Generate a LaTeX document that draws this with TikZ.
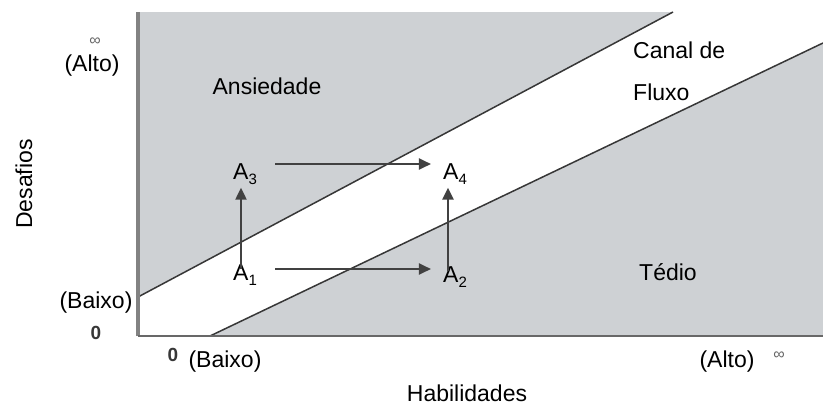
\documentclass[tikz,border=0pt]{standalone}
\usepackage{fontspec}
\setmainfont{Liberation Sans}
\usetikzlibrary{arrows.meta}
\definecolor{zonegray}{RGB}{206,209,212}
\definecolor{linegray}{RGB}{55,55,55}
\definecolor{arrowgray}{RGB}{65,65,65}
\definecolor{axisgray}{RGB}{130,130,130}
\definecolor{infgray}{RGB}{100,100,100}
\newcommand{\sub}[1]{\raisebox{-5pt}{\fontsize{15}{15}\selectfont #1}}
\begin{document}
\begin{tikzpicture}[x=1pt,y=-1pt,
  txt/.style={inner sep=0pt,font=\fontsize{23}{27}\selectfont},
  inf/.style={inner sep=0pt,font=\fontsize{16}{16}\selectfont,text=infgray},
  zero/.style={inner sep=0pt,font=\fontsize{19}{19}\selectfont\bfseries,text=linegray},
  pt/.style={inner sep=0pt,font=\fontsize{23}{27}\selectfont},
  arr/.style={draw=arrowgray,line width=2.2pt,-{Triangle[length=12pt,width=11pt]}},
  bound/.style={draw=linegray,line width=1.5pt}]
\useasboundingbox (0,0) rectangle (823,405);
% zones
\fill[zonegray] (138,12) -- (673,12) -- (138,297) -- cycle;
\fill[zonegray] (210,336) -- (823,43) -- (823,336) -- cycle;
% boundary lines
\coordinate (u1) at (138,297);
\coordinate (u2) at (673,12);
\coordinate (l1) at (210,336);
\coordinate (l2) at (823,43);
\draw[bound] (u1) -- (u2);
\draw[bound] (l1) -- (l2);
% axes
\coordinate (o) at (138,336);
\coordinate (ytop) at (138,12);
\coordinate (xend) at (823,336);
\draw[axisgray,line width=3.5pt] (o) -- (ytop);
\draw[axisgray!80!black,line width=2pt] (o) -- (xend);
% axis labels
\node[inf] (inftl) at (95,42) {∞};
\node[txt] (altol) at (92,66) {(Alto)};
\node[txt] (baixol) at (96,303) {(Baixo)};
\node[zero] (zerol) at (96,333) {0};
\node[zero] (zerob) at (173,355) {0};
\node[txt] (baixob) at (225,362) {(Baixo)};
\node[txt] (altob) at (727,362) {(Alto)};
\node[inf] (infbr) at (779,356) {∞};
\node[txt] (hab) at (467,393) {Habilidades};
\node[txt,rotate=90] (des) at (24,184) {Desafios};
% zone labels
\node[txt] (ans) at (267,86) {Ansiedade};
\node[txt,anchor=west] (canal) at (633,50) {Canal de};
\node[txt,anchor=west] (fluxo) at (633,92) {Fluxo};
\node[txt] (tedio) at (668,272) {Tédio};
% points
\node[pt] (A1) at (245,275) {A\sub{1}};
\node[pt] (A2) at (455,277) {A\sub{2}};
\node[pt] (A3) at (245,174) {A\sub{3}};
\node[pt] (A4) at (455,174) {A\sub{4}};
\draw[arr] ([xshift=18pt,yshift=6pt]A1.east) -- ([xshift=-12pt,yshift=6pt]A1.east -| A2.west);
\draw[arr] ([xshift=18pt,yshift=10pt]A3.east) -- ([xshift=-12pt,yshift=10pt]A3.east -| A4.west);
\draw[arr] ([xshift=-4pt,yshift=-5pt]A1.north) -- ([xshift=-4pt,yshift=-3pt]A3.south);
\draw[arr] ([xshift=-7pt,yshift=-5pt]A2.north) -- ([xshift=-7pt,yshift=-3pt]A4.south);
\end{tikzpicture}
\end{document}
